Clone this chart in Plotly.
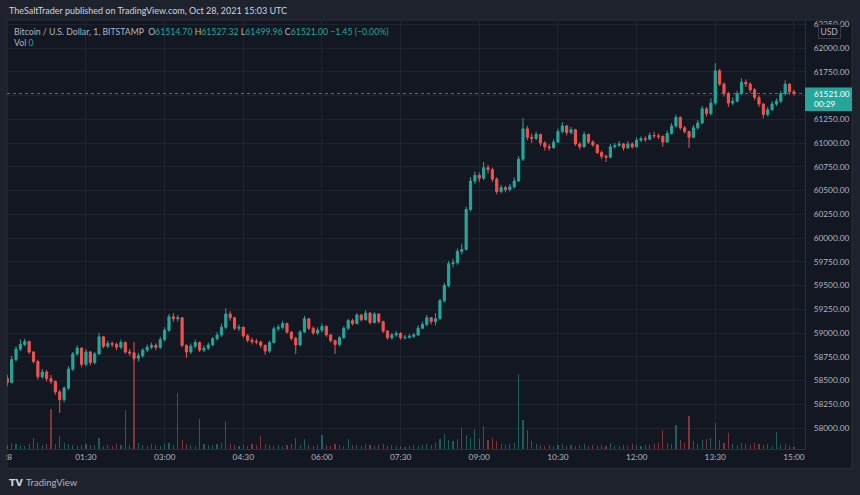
import plotly.graph_objects as go
import pandas as pd

# ---------------- data (5-minute candles) ----------------
first_open = 58520
closes = [
    58480, 58720, 58830, 58880, 58910, 58800, 58700, 58540, 58590, 58520,
    58490, 58380, 58300, 58420, 58620, 58780, 58840, 58670, 58800, 58690,
    58780, 58960, 58860, 58890, 58880, 58850, 58900, 58800, 58790, 58735,
    58760, 58820, 58850, 58870, 58850, 58930, 59030, 59170, 59150, 59160,
    58870, 58800, 58860, 58900, 58820, 58840, 58875, 58940, 58980, 59060,
    59200, 59160, 59050, 59060, 58970, 58925, 58910, 58905, 58870, 58810,
    58900, 59045, 59060, 59100, 59010, 58945, 58875, 59010, 59150, 59050,
    59000, 59030, 59070, 58980, 58920, 58880, 58950, 59050, 59130, 59100,
    59190, 59140, 59210, 59110, 59200, 59120, 59020, 58950, 58980, 58995,
    58950, 58955, 58965, 58980, 59050, 59090, 59160, 59120, 59150, 59340,
    59500, 59730, 59740, 59860, 59880, 60300, 60600, 60660, 60630, 60740,
    60720, 60620, 60490, 60530, 60510, 60540, 60600, 60830, 61150, 61060,
    61050, 61090, 61000, 60960, 60950, 61010, 61120, 61180, 61110, 61140,
    60990, 60960, 61090, 61010, 60980, 60900, 60860, 60850, 60960, 60975,
    60990, 60950, 60990, 60960, 61030, 61045, 61040, 61080, 61075, 61070,
    61010, 61100, 61180, 61270, 61160, 61120, 61060, 61160, 61210, 61360,
    61310, 61420, 61760, 61620, 61520, 61420, 61440, 61520, 61640, 61620,
    61560, 61480, 61410, 61300, 61350, 61410, 61440, 61520, 61620, 61540,
    61521,
]
highs = [
    58560, 58760, 58860, 58930, 58940, 58920, 58810, 58720, 58620, 58610,
    58560, 58500, 58400, 58440, 58650, 58800, 58870, 58850, 58830, 58810,
    58800, 59000, 58970, 58920, 58910, 58900, 58930, 58910, 58830, 58800,
    58790, 58840, 58880, 58900, 58890, 58960, 59060, 59200, 59210, 59190,
    59170, 58880, 58890, 58930, 58910, 58870, 58900, 58960, 59010, 59100,
    59260, 59230, 59170, 59090, 59070, 58990, 58950, 58940, 58920, 58880,
    58920, 59070, 59090, 59130, 59110, 59020, 58960, 59030, 59180, 59160,
    59070, 59060, 59100, 59080, 58990, 58930, 58970, 59070, 59150, 59150,
    59210, 59200, 59240, 59220, 59220, 59210, 59130, 59030, 59000, 59020,
    59010, 58980, 58990, 59000, 59080, 59120, 59190, 59170, 59210, 59360,
    59530, 59760, 59780, 59890, 59940, 60330, 60640, 60700, 60690, 60800,
    60770, 60740, 60640, 60560, 60550, 60570, 60640, 60860, 61260, 61180,
    61100, 61120, 61100, 61020, 60990, 61040, 61150, 61220, 61190, 61170,
    61150, 61010, 61120, 61100, 61030, 60990, 60920, 60880, 60990, 61000,
    61020, 61000, 61020, 61010, 61060, 61070, 61070, 61110, 61120, 61100,
    61080, 61130, 61210, 61300, 61280, 61180, 61130, 61190, 61240, 61390,
    61380, 61470, 61840, 61780, 61640, 61540, 61480, 61550, 61680, 61670,
    61640, 61580, 61500, 61420, 61380, 61440, 61470, 61550, 61660, 61630,
    61560,
]
lows = [
    58440, 58470, 58700, 58810, 58860, 58780, 58680, 58510, 58520, 58490,
    58460, 58350, 58160, 58270, 58400, 58600, 58760, 58640, 58650, 58660,
    58670, 58770, 58840, 58840, 58850, 58820, 58830, 58780, 58760, 58710,
    58700, 58740, 58800, 58830, 58820, 58830, 58910, 59010, 59120, 59120,
    58850, 58740, 58780, 58840, 58800, 58800, 58820, 58860, 58920, 58960,
    59040, 59130, 59030, 59020, 58950, 58900, 58880, 58880, 58840, 58770,
    58790, 58890, 59020, 59040, 58990, 58920, 58780, 58860, 59000, 59030,
    58980, 58980, 59010, 58960, 58900, 58780, 58860, 58940, 59030, 59080,
    59090, 59120, 59130, 59090, 59100, 59100, 59000, 58930, 58930, 58960,
    58930, 58930, 58940, 58950, 58970, 59040, 59070, 59090, 59080, 59140,
    59320, 59480, 59690, 59720, 59830, 59870, 60280, 60570, 60590, 60610,
    60680, 60590, 60460, 60470, 60480, 60490, 60520, 60590, 60810, 61030,
    61000, 61030, 60970, 60920, 60920, 60940, 61000, 61100, 61080, 61090,
    60970, 60930, 60950, 60990, 60960, 60880, 60830, 60800, 60840, 60940,
    60960, 60920, 60940, 60940, 60950, 61010, 61010, 61030, 61050, 61040,
    60960, 61000, 61090, 61160, 61140, 61100, 60950, 61050, 61140, 61200,
    61280, 61290, 61400, 61600, 61490, 61380, 61400, 61430, 61510, 61590,
    61530, 61450, 61380, 61260, 61280, 61340, 61390, 61420, 61500, 61510,
    61500,
]
volumes = [
    4, 6, 5, 4, 3, 5, 10, 6, 4, 5,
    37, 5, 12, 6, 5, 4, 3, 4, 5, 4,
    4, 10, 3, 4, 3, 5, 4, 36, 4, 100,
    6, 4, 3, 5, 4, 3, 5, 6, 4, 52,
    8, 5, 4, 3, 28, 5, 4, 4, 5, 6,
    26, 5, 4, 3, 4, 3, 5, 4, 12, 5,
    4, 3, 4, 3, 4, 5, 10, 4, 9, 4,
    3, 4, 13, 4, 3, 5, 4, 3, 9, 4,
    4, 3, 5, 4, 3, 4, 5, 3, 4, 3,
    3, 2, 3, 4, 3, 4, 5, 4, 6, 9,
    14, 8, 7, 9, 20, 13, 10, 19, 9, 21,
    8, 10, 7, 5, 4, 5, 6, 70, 27, 18,
    7, 5, 4, 3, 4, 3, 4, 5, 3, 4,
    3, 4, 5, 3, 4, 3, 4, 3, 6, 3,
    3, 4, 3, 5, 4, 3, 4, 4, 5, 6,
    18, 6, 5, 22, 8, 6, 31, 7, 5, 8,
    9, 10, 24, 8, 6, 15, 5, 4, 6, 5,
    4, 6, 5, 4, 5, 3, 16, 4, 5, 3,
    2,
]
price_ticks = [58000, 58250, 58500, 58750, 59000, 59250, 59500, 59750, 60000,
               60250, 60500, 60750, 61000, 61250, 61500, 61750, 62000, 62250]
time_ticks = ["2021-10-28 00:00", "2021-10-28 01:30", "2021-10-28 03:00",
              "2021-10-28 04:30", "2021-10-28 06:00", "2021-10-28 07:30",
              "2021-10-28 09:00", "2021-10-28 10:30", "2021-10-28 12:00",
              "2021-10-28 13:30", "2021-10-28 15:00"]
time_labels = ["28", "01:30", "03:00", "04:30", "06:00", "07:30",
               "09:00", "10:30", "12:00", "13:30", "15:00"]
last_price_text = "61521.00"
countdown_text = "00:29"

# ---------------- styling / layout ----------------
W, H = 860, 495
ML, MR, MT, MB = 7, 55, 20, 46
PW = W - ML - MR
PH = H - MT - MB
Y_MIN, Y_MAX = 57779, 62295


def px(x):
    return (x - ML) / PW


def py(y):
    return 1 - (y - MT) / PH


UP = "#26a69a"
DN = "#ef5350"
BG = "#131722"
OUT = "#1e222d"
BORDER = "#2a2e39"
GRID = "#1f2330"
TXT = "#b2b5be"
FONT = "Lato"

n = len(closes)
assert len(highs) == n and len(lows) == n and len(volumes) == n
opens = [first_open] + closes[:-1]
times = pd.date_range("2021-10-28 00:00", periods=n, freq="5min")
vol_colors = ["rgba(38,166,154,0.5)" if c >= o else "rgba(239,83,80,0.5)"
              for o, c in zip(opens, closes)]

fig = go.Figure()
fig.add_trace(go.Bar(
    x=times, y=volumes, marker=dict(color=vol_colors, line=dict(width=0)),
    width=80000, yaxis="y2", hoverinfo="skip", showlegend=False))
fig.add_trace(go.Candlestick(
    x=times, open=opens, high=highs, low=lows, close=closes,
    increasing=dict(line=dict(color=UP, width=1), fillcolor=UP),
    decreasing=dict(line=dict(color=DN, width=1), fillcolor=DN),
    whiskerwidth=0, showlegend=False, yaxis="y"))

ppx = (Y_MAX - Y_MIN) / PH
last = closes[-1]

shapes = [
    dict(type="rect", xref="paper", yref="paper", x0=px(7), x1=px(852),
         y0=py(468.5), y1=py(20), fillcolor=BG, line=dict(color=BORDER, width=1),
         layer="below"),
    dict(type="line", xref="paper", yref="y", x0=0, x1=1, y0=last, y1=last,
         line=dict(color="rgba(38,166,154,0.8)", width=1, dash="dot")),
    dict(type="rect", xref="paper", yref="y", x0=1, x1=px(852),
         y0=last - 17.5 * ppx, y1=last + 6 * ppx, fillcolor=UP,
         line=dict(width=0), layer="above"),
    dict(type="rect", xref="paper", yref="paper", x0=px(0), x1=px(6.5),
         y0=py(469), y1=py(449.5), fillcolor=OUT, line=dict(width=0),
         layer="above"),
]

legend_line = (
    "Bitcoin / U.S. Dollar, 1, BITSTAMP&nbsp;&nbsp;"
    f"O<span style='color:{UP}'>61514.70</span>&nbsp;"
    f"H<span style='color:{UP}'>61527.32</span>&nbsp;"
    f"L<span style='color:{UP}'>61499.96</span>&nbsp;"
    f"C<span style='color:{UP}'>61521.00</span>&nbsp;"
    f"<span style='color:{UP}'>−1.45 (−0.00%)</span>"
)

annotations = [
    dict(text="TheSaltTrader published on TradingView.com, Oct 28, 2021 15:03 UTC",
         xref="paper", yref="paper", x=px(7), y=py(11), xanchor="left",
         yanchor="middle", showarrow=False, font=dict(size=9, color="#d1d4dc")),
    dict(text=legend_line, xref="paper", yref="paper", x=px(12), y=py(31),
         xanchor="left", yanchor="middle", showarrow=False,
         font=dict(size=8.7, color=TXT)),
    dict(text=f"Vol <span style='color:{UP}'>0</span>", xref="paper", yref="paper",
         x=px(12), y=py(43), xanchor="left", yanchor="middle", showarrow=False,
         font=dict(size=8.7, color=TXT)),
    dict(text="USD", xref="paper", yref="paper", x=px(829), y=py(31.5),
         xanchor="center", yanchor="middle", showarrow=False,
         font=dict(size=8.5, color=TXT), bgcolor=BG, bordercolor="#363a45",
         borderwidth=1, borderpad=1.5),
    dict(text=last_price_text, xref="paper", yref="y", x=px(812), y=last,
         xanchor="left", yanchor="middle", showarrow=False,
         font=dict(size=8.3, color="#ffffff")),
    dict(text=countdown_text, xref="paper", yref="y", x=px(812), y=last - 10.5 * ppx,
         xanchor="left", yanchor="middle", showarrow=False,
         font=dict(size=8.3, color="#ffffff")),
    dict(text="<b>TV</b>", xref="paper", yref="paper", x=px(7), y=py(482),
         xanchor="left", yanchor="middle", showarrow=False,
         font=dict(size=9.5, color="#d1d4dc", family="DejaVu Sans")),
    dict(text="TradingView", xref="paper", yref="paper", x=px(24), y=py(482),
         xanchor="left", yanchor="middle", showarrow=False,
         font=dict(size=9.5, color=TXT)),
]

fig.update_layout(
    width=W, height=H, autosize=False,
    margin=dict(l=ML, r=MR, t=MT, b=MB, pad=0, autoexpand=False),
    paper_bgcolor=OUT, plot_bgcolor=BG,
    font=dict(family=FONT, size=8.3, color=TXT),
    showlegend=False, bargap=0,
    xaxis=dict(
        type="date", rangeslider=dict(visible=False), automargin=False,
        range=[pd.Timestamp("2021-10-27 23:59:40"), pd.Timestamp("2021-10-28 15:12:40")],
        tickmode="array", tickvals=time_ticks, ticktext=time_labels,
        showgrid=True, gridcolor=GRID, gridwidth=1, zeroline=False,
        showline=True, linecolor=BORDER, linewidth=1, ticks="",
        tickfont=dict(size=8.3, color=TXT), fixedrange=True),
    yaxis=dict(
        side="right", range=[Y_MIN, Y_MAX], tickmode="array", automargin=False,
        tickvals=price_ticks, ticktext=[f"{v:.2f}" for v in price_ticks],
        showgrid=True, gridcolor=GRID, gridwidth=1, zeroline=False,
        showline=True, linecolor=BORDER, linewidth=1, ticks="",
        ticklabelstandoff=6, tickfont=dict(size=8.3, color=TXT), fixedrange=True),
    yaxis2=dict(overlaying="y", range=[0, max(volumes) * 4.0], visible=False,
                fixedrange=True, automargin=False),
    shapes=shapes, annotations=annotations,
)

# page styling only: remove the default browser body margin so the figure sits at 0,0
fig.write_html(
    "out.html",
    config={"displayModeBar": False},
    post_script="document.body.style.margin='0';"
                "document.body.style.overflow='hidden';"
                "document.body.style.background='#1e222d';",
)
